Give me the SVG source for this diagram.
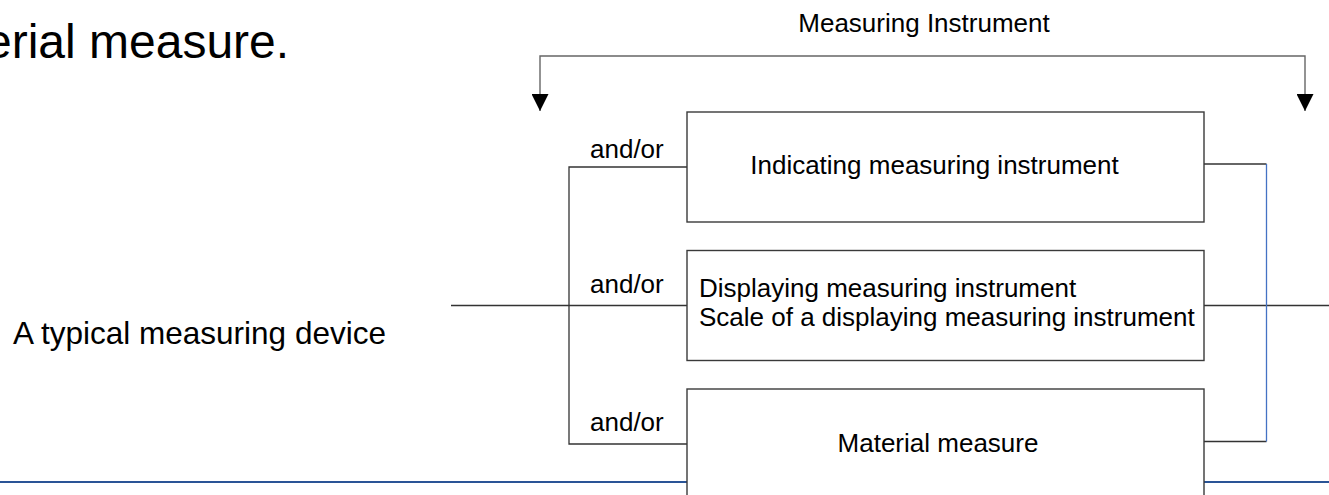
<svg xmlns="http://www.w3.org/2000/svg" width="1329" height="495" viewBox="0 0 1329 495">
  <style>
    text { font-family: "Liberation Sans", Arial, sans-serif; fill: #000; }
    .lbl { font-size: 26px; }
    .slide { font-size: 31.5px; }
    .title { font-size: 48px; }
    .box { fill: #fff; stroke: #3a3a3a; stroke-width: 1.4; }
    .wire { fill: none; stroke: #333; stroke-width: 1.3; }
    .bracket { fill: none; stroke: #666; stroke-width: 1.4; }
    .blue { fill: none; stroke: #4472c4; stroke-width: 1.3; }
    .rule { fill: none; stroke: #2a5496; stroke-width: 2.2; }
  </style>
  <defs>
    <marker id="arrow" markerUnits="userSpaceOnUse" markerWidth="17" markerHeight="17" refX="17" refY="8.5" orient="auto-start-reverse">
      <path d="M0,0 L17,8.5 L0,17 Z" fill="#000"/>
    </marker>
  </defs>

  <rect width="1329" height="495" fill="#fff"/>

  <!-- slide text -->
  <text class="title" x="-15" y="58">erial measure.</text>
  <text class="slide" x="13" y="344">A typical measuring device</text>

  <!-- bottom rule of the slide -->
  <line class="rule" x1="0" y1="482" x2="1329" y2="482"/>

  <g id="connectors">
    <!-- top bracket with the two downward arrows -->
    <path class="bracket" d="M540 111 V56 H1305 V111" marker-start="url(#arrow)" marker-end="url(#arrow)"/>
    <!-- left and/or bracket -->
    <path class="wire" d="M687 167 H569 V444 H687"/>
    <!-- horizontal axis through the middle box -->
    <line class="wire" x1="451" y1="305.5" x2="687" y2="305.5"/>
    <line class="wire" x1="1204" y1="305.5" x2="1329" y2="305.5"/>
    <!-- right bracket -->
    <path class="wire" d="M1204 164 H1266.5"/>
    <path class="wire" d="M1266.5 441.5 H1204"/>
    <line class="blue" x1="1266.5" y1="164" x2="1266.5" y2="441.5"/>
  </g>

  <g id="label-measuring-instrument">
    <text class="lbl" x="924" y="32" text-anchor="middle">Measuring Instrument</text>
  </g>

  <g id="and-or-labels">
    <text class="lbl" x="590" y="158">and/or</text>
    <text class="lbl" x="590" y="293">and/or</text>
    <text class="lbl" x="590" y="431">and/or</text>
  </g>

  <g id="indicating">
    <rect class="box" x="687" y="112" width="517" height="110"/>
    <text class="lbl" x="934.5" y="174" text-anchor="middle">Indicating measuring instrument</text>
  </g>

  <g id="displaying">
    <rect class="box" x="687" y="250.5" width="517" height="110"/>
    <text class="lbl" x="699" y="297">Displaying measuring instrument</text>
    <text class="lbl" x="699" y="326">Scale of a displaying measuring instrument</text>
  </g>

  <g id="material">
    <rect class="box" x="687" y="389" width="517" height="120"/>
    <text class="lbl" x="938" y="452" text-anchor="middle">Material measure</text>
  </g>
</svg>
